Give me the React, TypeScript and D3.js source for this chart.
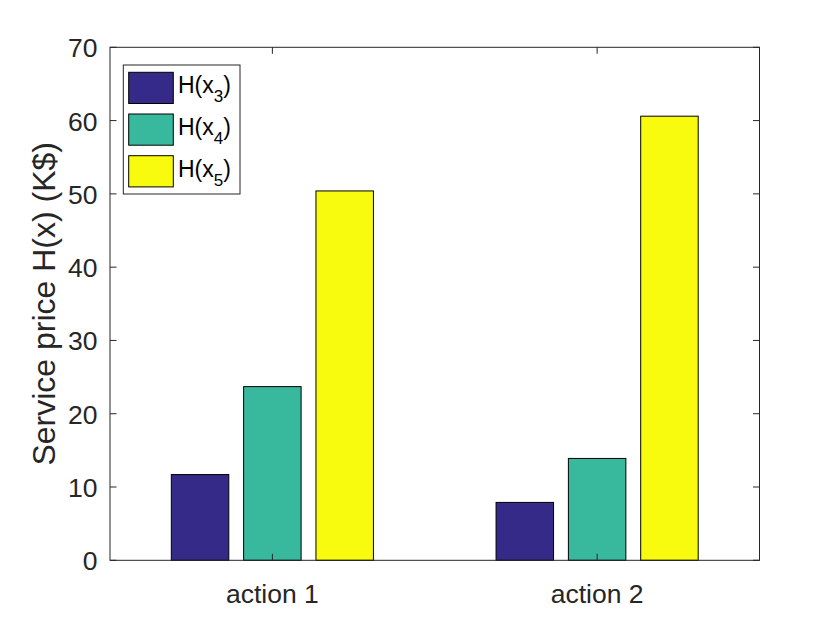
import React from "react";
import * as d3 from "d3";

const categories = ["action 1", "action 2"];
const seriesNames = ["3", "4", "5"];
const seriesColors = ["#352a87", "#38b99e", "#f9fb0e"];
const valuesH3 = [11.7, 7.9];
const valuesH4 = [23.7, 13.9];
const valuesH5 = [50.4, 60.6];
const yTicks = [0, 10, 20, 30, 40, 50, 60, 70];

const W = 840, H = 630;
const L = 110, R = 759.5, T = 47.3, B = 560.3;
const axisColor = "#262626";
const font = "'Liberation Sans', Arial, Helvetica, sans-serif";

export default function App() {
  const series = [valuesH3, valuesH4, valuesH5];
  const x = d3.scaleLinear().domain([0.5, 2.5]).range([L, R]);
  const y = d3.scaleLinear().domain([0, 70]).range([B, T]);
  const groupOffset = 0.2227;
  const barW = 0.177;
  const tickLen = 6.5;

  return (
    <svg width={W} height={H} style={{ position: "absolute", left: 0, top: 0, background: "#fff" }}>
      <rect x={0} y={0} width={W} height={H} fill="#fff" />
      {series.map((vals, si) =>
        vals.map((v, ci) => {
          const cx = ci + 1 + (si - 1) * groupOffset;
          const x0 = x(cx - barW / 2);
          const x1 = x(cx + barW / 2);
          return (
            <rect
              key={`${si}-${ci}`}
              x={x0}
              y={y(v)}
              width={x1 - x0}
              height={y(0) - y(v)}
              fill={seriesColors[si]}
              stroke="#000"
              strokeWidth={1}
            />
          );
        })
      )}
      {/* axes box */}
      <rect x={L} y={T} width={R - L} height={B - T} fill="none" stroke={axisColor} strokeWidth={1} />
      {yTicks.map((t) => (
        <g key={t}>
          <line x1={L} x2={L + tickLen} y1={y(t)} y2={y(t)} stroke={axisColor} />
          <line x1={R} x2={R - tickLen} y1={y(t)} y2={y(t)} stroke={axisColor} />
          <text
            x={L - 12.5}
            y={y(t) + 10}
            textAnchor="end"
            fontFamily={font}
            fontSize={26.5}
            fill={axisColor}
          >
            {t}
          </text>
        </g>
      ))}
      {categories.map((c, i) => (
        <g key={c}>
          <line x1={x(i + 1)} x2={x(i + 1)} y1={B} y2={B - tickLen} stroke={axisColor} />
          <line x1={x(i + 1)} x2={x(i + 1)} y1={T} y2={T + tickLen} stroke={axisColor} />
          <text
            x={x(i + 1)}
            y={603}
            textAnchor="middle"
            fontFamily={font}
            fontSize={26.5}
            fill={axisColor}
          >
            {c}
          </text>
        </g>
      ))}
      <text
        transform={`translate(55, ${(T + B) / 2}) rotate(-90)`}
        textAnchor="middle"
        fontFamily={font}
        fontSize={32}
        fill={axisColor}
      >
        Service price H(x) (K$)
      </text>
      {/* legend */}
      <rect x={123.3} y={65} width={116.7} height={129} fill="#fff" stroke={axisColor} strokeWidth={1} />
      {seriesNames.map((n, i) => {
        const sy = 72.3 + i * 41.7;
        return (
          <g key={n}>
            <rect x={128.7} y={sy} width={44.6} height={31.2} fill={seriesColors[i]} stroke="#000" strokeWidth={1} />
            <text x={178} y={sy + 21} fontFamily={font} fontSize={23} fill="#000">
              H(x
              <tspan fontSize={17} dy={9}>{n}</tspan>
              <tspan dy={-9}>)</tspan>
            </text>
          </g>
        );
      })}
    </svg>
  );
}
